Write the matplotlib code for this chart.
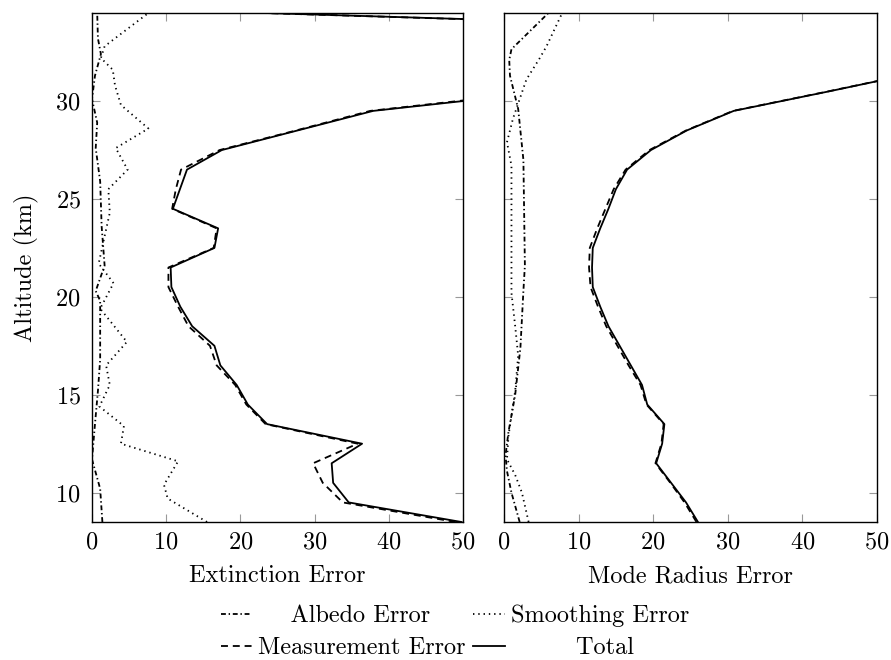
import numpy as np
import matplotlib
matplotlib.use("Agg")
import matplotlib.pyplot as plt

plt.rcParams['font.family'] = 'serif'
plt.rcParams['font.serif'] = ['cmr10']
plt.rcParams['mathtext.fontset'] = 'cm'
plt.rcParams['axes.formatter.use_mathtext'] = True
plt.rcParams['lines.scale_dashes'] = False

## data
# altitude grid of the main profiles (km)
alt = np.arange(8.5, 35.0, 1.0)

# extinction error panel
ext_total = [49.8, 34.6, 32.5, 32.3, 36.4, 23.6, 21.0, 19.5, 17.3, 16.5, 13.5,
             11.9, 10.7, 10.6, 16.5, 17.0, 10.9, 11.85, 12.8, 17.5, 27.7, 37.9,
             62.0, 90.0, 110.0, 110.0, 23.3]
ext_meas = [49.0, 33.8, 31.1, 29.8, 35.8, 23.4, 20.8, 19.3, 16.8, 15.9, 13.0,
            11.6, 10.3, 10.3, 16.4, 16.8, 10.8, 11.3, 12.0, 17.2, 27.5, 37.5,
            61.0, 89.0, 109.0, 109.0, 23.0]
alt_alb_ext = [8.5, 10.2, 11.7, 13.5, 15.2, 16.8, 19.8, 20.3, 21.6, 23.6, 25.9,
               27.6, 28.9, 30.1, 31.3, 32.4, 33.2, 34.5]
ext_alb = [1.4, 1.1, 0.0, 0.4, 0.8, 1.1, 1.1, 0.5, 1.7, 1.3, 1.1,
           0.5, 0.7, 0.0, 0.4, 1.2, 0.8, 0.7]
alt_smo_ext = [8.5, 9.7, 10.4, 11.6, 12.5, 13.4, 14.4, 15.5, 16.5, 17.7, 19.4,
               20.7, 21.7, 23.1, 24.3, 25.5, 26.5, 27.6, 28.6, 29.8, 30.8, 31.6,
               32.2, 32.8, 34.5]
ext_smo = [15.5, 10.2, 9.7, 11.6, 3.9, 4.3, 1.0, 2.4, 1.9, 4.7, 1.1,
           2.9, 0.9, 1.7, 2.4, 2.2, 4.8, 3.2, 7.6, 3.9, 3.1, 2.8,
           1.2, 1.7, 7.6]

# mode radius error panel
mr_total = [26.0, 24.4, 22.4, 20.4, 21.2, 21.5, 19.2, 18.5, 17.0, 15.5, 14.0,
            12.9, 11.9, 11.8, 11.9, 12.9, 14.0, 15.0, 16.5, 19.7, 24.5, 30.8,
            43.6, 56.0, 70.0, 85.0, 100.0]
mr_meas = [25.8, 24.2, 22.3, 20.3, 21.1, 21.4, 19.1, 18.3, 16.7, 15.2, 13.7,
           12.6, 11.6, 11.4, 11.5, 12.5, 13.6, 14.7, 16.3, 19.5, 24.4, 30.7,
           43.5, 56.0, 70.0, 85.0, 100.0]
alt_alb_mr = [8.5, 10.0, 11.1, 11.9, 13.1, 15.0, 17.4, 20.3, 21.6, 27.0, 29.6,
              31.3, 32.1, 32.65, 34.5]
mr_alb = [2.1, 1.0, 0.4, 0.2, 0.6, 1.5, 2.2, 2.6, 2.8, 2.6, 1.9,
          0.8, 0.7, 1.0, 5.95]
alt_smo_mr = [8.5, 10.0, 10.9, 11.7, 12.9, 15.2, 17.0, 18.5, 20.2, 22.2, 26.7,
              27.9, 29.1, 30.1, 31.1, 32.2, 32.8, 34.5]
mr_smo = [3.3, 2.4, 1.5, 0.4, 0.6, 1.5, 1.9, 1.5, 1.0, 1.0, 1.0,
          0.4, 1.2, 2.1, 3.0, 4.8, 5.7, 7.8]

labels = ["Albedo Error", "Measurement Error", "Smoothing Error", "Total"]
xticks = [0, 10, 20, 30, 40, 50]
yticks = [10, 15, 20, 25, 30]

## style
fs = 17.5
lw = 1.3
st_alb = (0, (3.5, 2.0, 1.0, 2.0))
st_meas = (0, (5.0, 3.5))
st_smo = (0, (1.0, 2.8))
# leading spaces so the legend texts sit centred in their column, like pgfplots
pad_left = ["    ", "", "", "        "]


def style_axes(ax, ylabels=True):
    ax.set_xlim(0, 50)
    ax.set_ylim(8.5, 34.5)
    ax.set_xticks(xticks)
    ax.set_yticks(yticks)
    ax.tick_params(direction='in', length=6, width=0.8, color='#999999',
                   top=True, right=True, labelsize=fs)
    ax.tick_params(axis='x', pad=7)
    ax.tick_params(axis='y', pad=8)
    if not ylabels:
        ax.set_yticklabels([])
    for s in ax.spines.values():
        s.set_linewidth(1.0)


fig = plt.figure(figsize=(8.91, 6.6), dpi=100)
ax1 = fig.add_axes([92 / 891, 1 - 522 / 660, 371 / 891, 509 / 660])
ax2 = fig.add_axes([504 / 891, 1 - 522 / 660, 373 / 891, 509 / 660])

h = []
h += ax1.plot(ext_alb, alt_alb_ext, color='black', lw=lw, linestyle=st_alb)
h += ax1.plot(ext_meas, alt, color='black', lw=lw, linestyle=st_meas)
h += ax1.plot(ext_smo, alt_smo_ext, color='black', lw=lw, linestyle=st_smo)
h += ax1.plot(ext_total, alt, color='black', lw=lw, linestyle='-')

ax2.plot(mr_alb, alt_alb_mr, color='black', lw=lw, linestyle=st_alb)
ax2.plot(mr_meas, alt, color='black', lw=lw, linestyle=st_meas)
ax2.plot(mr_smo, alt_smo_mr, color='black', lw=lw, linestyle=st_smo)
ax2.plot(mr_total, alt, color='black', lw=lw, linestyle='-')

style_axes(ax1)
style_axes(ax2, ylabels=False)

ax1.set_xlabel("Extinction Error", fontsize=fs, labelpad=8)
ax2.set_xlabel("Mode Radius Error", fontsize=fs, labelpad=8)
ax1.set_ylabel("Altitude (km)", fontsize=fs, labelpad=12)

leg_labels = [p + l for p, l in zip(pad_left, labels)]
fig.legend(h, leg_labels, ncol=2, frameon=False, fontsize=fs,
           loc='center', bbox_to_anchor=(455 / 891, 1 - 632 / 660),
           handlelength=1.3, handletextpad=0.25, columnspacing=0.3,
           labelspacing=0.4, borderpad=0.0)

fig.savefig("out.png", dpi=100)
